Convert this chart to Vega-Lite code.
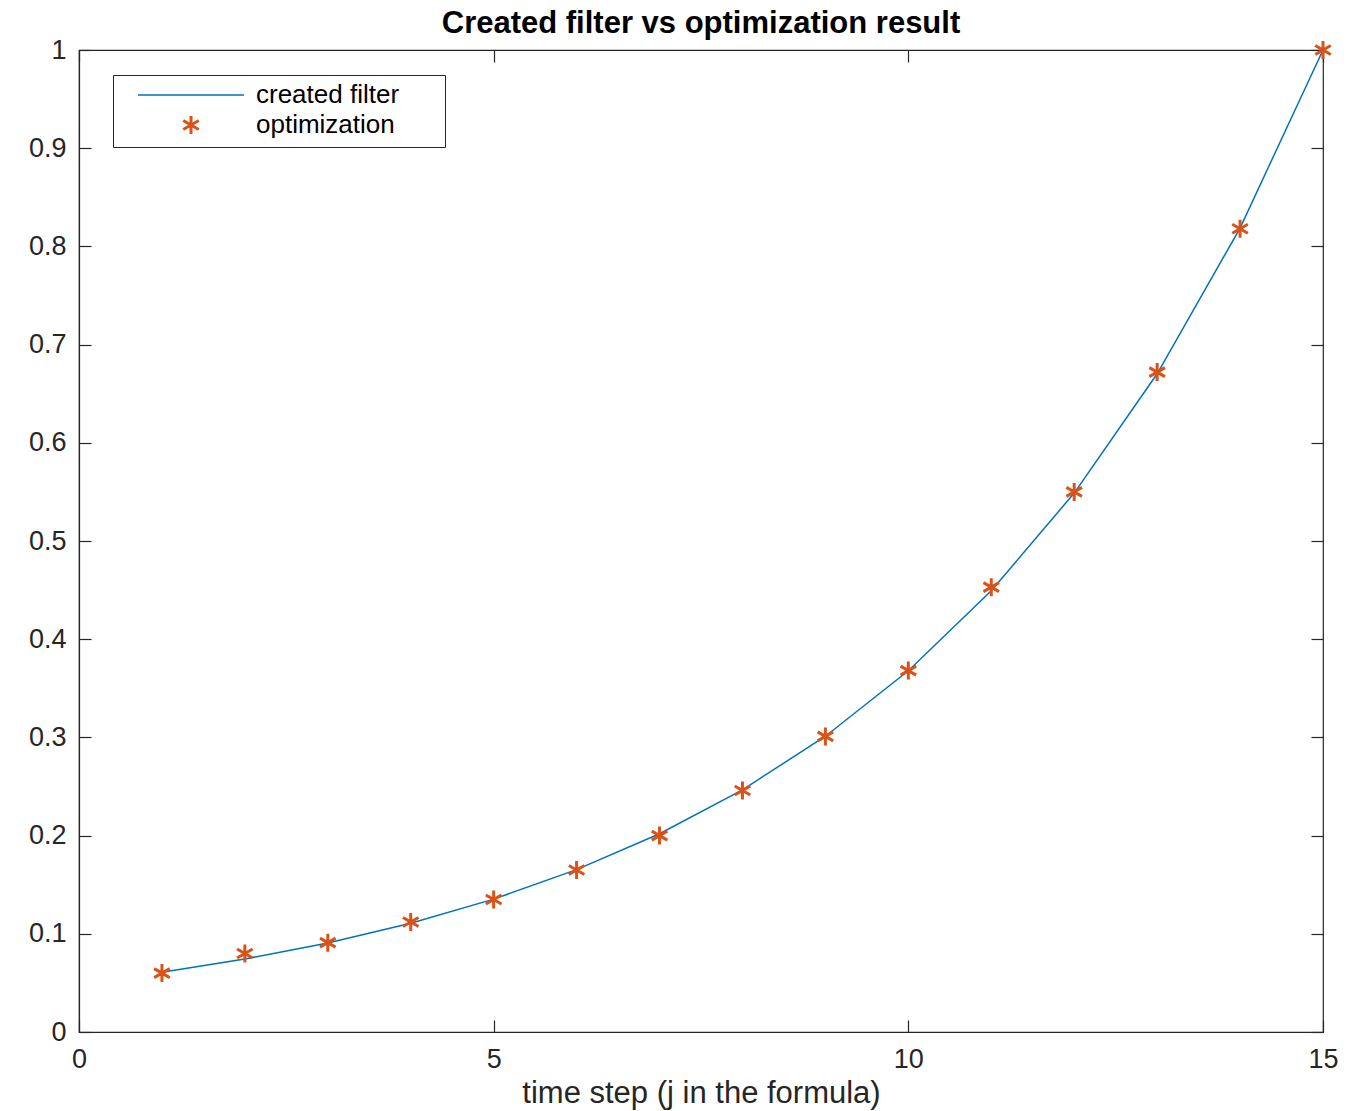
{
  "$schema": "https://vega.github.io/schema/vega-lite/v6.json",
  "autosize": "none",
  "width": 1244,
  "height": 982,
  "padding": {"left": 79, "top": 50, "right": 33, "bottom": 79},
  "background": "white",
  "config": {
    "font": "Liberation Sans",
    "view": {"stroke": "#262626", "strokeWidth": 1.2},
    "axis": {
      "domainColor": "#262626",
      "tickColor": "#262626",
      "labelColor": "#262626",
      "titleColor": "#262626",
      "labelFont": "Liberation Sans",
      "titleFont": "Liberation Sans",
      "labelFontSize": 27,
      "titleFontSize": 31,
      "titleFontWeight": "normal",
      "grid": false,
      "tickSize": -12,
      "tickWidth": 1.2,
      "domainWidth": 1.2
    }
  },
  "title": {
    "text": "Created filter vs optimization result",
    "fontSize": 31,
    "fontWeight": "bold",
    "font": "Liberation Sans",
    "color": "black",
    "offset": -5,
    "anchor": "middle"
  },
  "datasets": {
    "filter": [
      {"j": 1, "v": 0.0608, "series": "created filter"},
      {"j": 2, "v": 0.0743, "series": "created filter"},
      {"j": 3, "v": 0.0907, "series": "created filter"},
      {"j": 4, "v": 0.1108, "series": "created filter"},
      {"j": 5, "v": 0.1353, "series": "created filter"},
      {"j": 6, "v": 0.1653, "series": "created filter"},
      {"j": 7, "v": 0.2019, "series": "created filter"},
      {"j": 8, "v": 0.2466, "series": "created filter"},
      {"j": 9, "v": 0.3012, "series": "created filter"},
      {"j": 10, "v": 0.3679, "series": "created filter"},
      {"j": 11, "v": 0.4493, "series": "created filter"},
      {"j": 12, "v": 0.5488, "series": "created filter"},
      {"j": 13, "v": 0.6703, "series": "created filter"},
      {"j": 14, "v": 0.8187, "series": "created filter"},
      {"j": 15, "v": 1.0, "series": "created filter"}
    ],
    "optim": [
      {"j": 1, "v": 0.060, "series": "optimization"},
      {"j": 2, "v": 0.080, "series": "optimization"},
      {"j": 3, "v": 0.091, "series": "optimization"},
      {"j": 4, "v": 0.112, "series": "optimization"},
      {"j": 5, "v": 0.135, "series": "optimization"},
      {"j": 6, "v": 0.165, "series": "optimization"},
      {"j": 7, "v": 0.200, "series": "optimization"},
      {"j": 8, "v": 0.246, "series": "optimization"},
      {"j": 9, "v": 0.301, "series": "optimization"},
      {"j": 10, "v": 0.368, "series": "optimization"},
      {"j": 11, "v": 0.453, "series": "optimization"},
      {"j": 12, "v": 0.550, "series": "optimization"},
      {"j": 13, "v": 0.672, "series": "optimization"},
      {"j": 14, "v": 0.818, "series": "optimization"},
      {"j": 15, "v": 1.0, "series": "optimization"}
    ]
  },
  "resolve": {"axis": {"x": "independent", "y": "independent"}},
  "layer": [
    {
      "data": {"name": "filter"},
      "mark": {"type": "line", "strokeWidth": 1.5, "clip": false},
      "encoding": {
        "x": {
          "field": "j", "type": "quantitative",
          "scale": {"domain": [0, 15], "nice": false, "zero": false},
          "axis": {"orient": "bottom", "values": [0, 5, 10, 15], "title": "time step (j in the formula)", "labelPadding": 26, "titlePadding": 6, "labelFlush": false}
        },
        "y": {
          "field": "v", "type": "quantitative",
          "scale": {"domain": [0, 1], "nice": false},
          "axis": {"orient": "left", "values": [0, 0.1, 0.2, 0.3, 0.4, 0.5, 0.6, 0.7, 0.8, 0.9, 1], "format": ".1~f", "title": null, "labelPadding": 25, "labelFlush": false}
        },
        "color": {
          "field": "series", "type": "nominal",
          "scale": {"domain": ["created filter", "optimization"], "range": ["#0072BD", "#D95319"]},
          "legend": {
            "title": null,
            "orient": "none",
            "legendX": 34,
            "legendY": 25,
            "direction": "vertical",
            "strokeColor": "#262626",
            "fillColor": "white",
            "padding": 7,
            "labelFontSize": 26,
            "labelFont": "Liberation Sans",
            "labelColor": "black",
            "labelExpr": "datum.label + '\u2800\u2800'",
            "labelLimit": 400,
            "labelOffset": 52,
            "symbolOffset": 58,
            "rowPadding": 2,
            "symbolSize": 400,
            "symbolStrokeWidth": 1.5,
            "encode": {
              "symbols": {
                "update": {
                  "shape": {"signal": "datum.value === 'created filter' ? 'M-2.65,0L2.65,0' : 'M0,-1L0,1M-0.866,-0.5L0.866,0.5M-0.866,0.5L0.866,-0.5'"},
                  "size": {"signal": "datum.value === 'created filter' ? 1600 : 324"},
                  "stroke": {"signal": "datum.value === 'created filter' ? '#0072BD' : '#D95319'"},
                  "fill": {"value": "transparent"},
                  "strokeWidth": {"signal": "datum.value === 'created filter' ? 1.5 : 3"}
                }
              }
            }
          }
        }
      }
    },
    {
      "data": {"name": "optim"},
      "mark": {
        "type": "point",
        "shape": "M0,-1L0,1M-0.866,-0.5L0.866,0.5M-0.866,0.5L0.866,-0.5",
        "filled": false,
        "size": 324,
        "strokeWidth": 3,
        "opacity": 1,
        "clip": false
      },
      "encoding": {
        "x": {
          "field": "j", "type": "quantitative",
          "axis": {"orient": "top", "values": [0, 5, 10, 15], "labels": false, "title": null, "domain": false}
        },
        "y": {
          "field": "v", "type": "quantitative",
          "axis": {"orient": "right", "values": [0, 0.1, 0.2, 0.3, 0.4, 0.5, 0.6, 0.7, 0.8, 0.9, 1], "labels": false, "title": null, "domain": false}
        },
        "color": {"field": "series", "type": "nominal"}
      }
    }
  ]
}
